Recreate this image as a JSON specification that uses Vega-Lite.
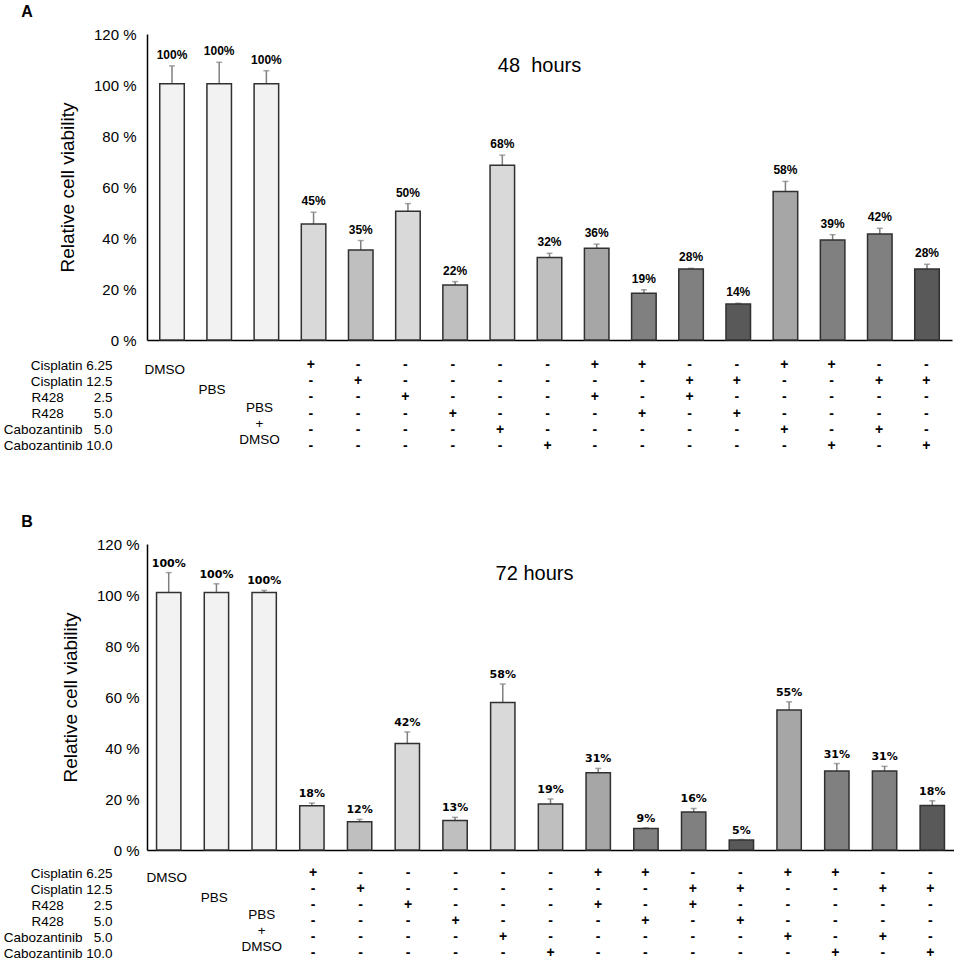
{
  "$schema": "https://vega.github.io/schema/vega-lite/v6.json",
  "padding": {"left": 3, "top": 4, "right": 0, "bottom": 0},
  "background": "white",
  "config": {
    "view": {"stroke": null},
    "font": "Liberation Sans",
    "axis": {"labelColor": "#000", "titleColor": "#000"}
  },
  "datasets": {
    "a48": [
      {"b": 1, "v": 100.5, "hi": 107.5, "g": "ctrl", "lab": "100%"},
      {"b": 2, "v": 100.5, "hi": 108.9, "g": "ctrl", "lab": "100%"},
      {"b": 3, "v": 100.5, "hi": 105.6, "g": "ctrl", "lab": "100%"},
      {"b": 4, "v": 45.5, "hi": 50.1, "g": "s1", "lab": "45%"},
      {"b": 5, "v": 35.3, "hi": 39, "g": "s2", "lab": "35%"},
      {"b": 6, "v": 50.5, "hi": 53.5, "g": "s1", "lab": "50%"},
      {"b": 7, "v": 21.6, "hi": 22.9, "g": "s2", "lab": "22%"},
      {"b": 8, "v": 68.5, "hi": 72.5, "g": "s1", "lab": "68%"},
      {"b": 9, "v": 32.4, "hi": 34, "g": "s2", "lab": "32%"},
      {"b": 10, "v": 36, "hi": 37.6, "g": "c1", "lab": "36%"},
      {"b": 11, "v": 18.3, "hi": 19.7, "g": "c2", "lab": "19%"},
      {"b": 12, "v": 27.8, "hi": 28.1, "g": "c2", "lab": "28%"},
      {"b": 13, "v": 14.1, "hi": 14.4, "g": "c3", "lab": "14%"},
      {"b": 14, "v": 58.2, "hi": 62.2, "g": "c1", "lab": "58%"},
      {"b": 15, "v": 39.2, "hi": 41.3, "g": "c2", "lab": "39%"},
      {"b": 16, "v": 41.6, "hi": 43.8, "g": "c2", "lab": "42%"},
      {"b": 17, "v": 27.8, "hi": 29.7, "g": "c3", "lab": "28%"}
    ],
    "b72": [
      {"b": 1, "v": 101, "hi": 108.8, "g": "ctrl", "lab": "100%"},
      {"b": 2, "v": 101, "hi": 104.4, "g": "ctrl", "lab": "100%"},
      {"b": 3, "v": 101, "hi": 101.8, "g": "ctrl", "lab": "100%"},
      {"b": 4, "v": 17.4, "hi": 18.4, "g": "s1", "lab": "18%"},
      {"b": 5, "v": 11.1, "hi": 12, "g": "s2", "lab": "12%"},
      {"b": 6, "v": 41.8, "hi": 46.3, "g": "s1", "lab": "42%"},
      {"b": 7, "v": 11.6, "hi": 12.8, "g": "s2", "lab": "13%"},
      {"b": 8, "v": 57.8, "hi": 65.1, "g": "s1", "lab": "58%"},
      {"b": 9, "v": 18, "hi": 20, "g": "s2", "lab": "19%"},
      {"b": 10, "v": 30.3, "hi": 32, "g": "c1", "lab": "31%"},
      {"b": 11, "v": 8.4, "hi": 8.7, "g": "c2", "lab": "9%"},
      {"b": 12, "v": 14.9, "hi": 16.3, "g": "c2", "lab": "16%"},
      {"b": 13, "v": 3.9, "hi": 4.1, "g": "c3", "lab": "5%"},
      {"b": 14, "v": 54.9, "hi": 58.1, "g": "c1", "lab": "55%"},
      {"b": 15, "v": 31, "hi": 33.9, "g": "c2", "lab": "31%"},
      {"b": 16, "v": 31, "hi": 32.8, "g": "c2", "lab": "31%"},
      {"b": 17, "v": 17.5, "hi": 19.3, "g": "c3", "lab": "18%"}
    ],
    "grid": [
      {"b": 4, "r": 1, "s": "+"}, {"b": 4, "r": 2, "s": "-"}, {"b": 4, "r": 3, "s": "-"}, {"b": 4, "r": 4, "s": "-"}, {"b": 4, "r": 5, "s": "-"}, {"b": 4, "r": 6, "s": "-"},
      {"b": 5, "r": 1, "s": "-"}, {"b": 5, "r": 2, "s": "+"}, {"b": 5, "r": 3, "s": "-"}, {"b": 5, "r": 4, "s": "-"}, {"b": 5, "r": 5, "s": "-"}, {"b": 5, "r": 6, "s": "-"},
      {"b": 6, "r": 1, "s": "-"}, {"b": 6, "r": 2, "s": "-"}, {"b": 6, "r": 3, "s": "+"}, {"b": 6, "r": 4, "s": "-"}, {"b": 6, "r": 5, "s": "-"}, {"b": 6, "r": 6, "s": "-"},
      {"b": 7, "r": 1, "s": "-"}, {"b": 7, "r": 2, "s": "-"}, {"b": 7, "r": 3, "s": "-"}, {"b": 7, "r": 4, "s": "+"}, {"b": 7, "r": 5, "s": "-"}, {"b": 7, "r": 6, "s": "-"},
      {"b": 8, "r": 1, "s": "-"}, {"b": 8, "r": 2, "s": "-"}, {"b": 8, "r": 3, "s": "-"}, {"b": 8, "r": 4, "s": "-"}, {"b": 8, "r": 5, "s": "+"}, {"b": 8, "r": 6, "s": "-"},
      {"b": 9, "r": 1, "s": "-"}, {"b": 9, "r": 2, "s": "-"}, {"b": 9, "r": 3, "s": "-"}, {"b": 9, "r": 4, "s": "-"}, {"b": 9, "r": 5, "s": "-"}, {"b": 9, "r": 6, "s": "+"},
      {"b": 10, "r": 1, "s": "+"}, {"b": 10, "r": 2, "s": "-"}, {"b": 10, "r": 3, "s": "+"}, {"b": 10, "r": 4, "s": "-"}, {"b": 10, "r": 5, "s": "-"}, {"b": 10, "r": 6, "s": "-"},
      {"b": 11, "r": 1, "s": "+"}, {"b": 11, "r": 2, "s": "-"}, {"b": 11, "r": 3, "s": "-"}, {"b": 11, "r": 4, "s": "+"}, {"b": 11, "r": 5, "s": "-"}, {"b": 11, "r": 6, "s": "-"},
      {"b": 12, "r": 1, "s": "-"}, {"b": 12, "r": 2, "s": "+"}, {"b": 12, "r": 3, "s": "+"}, {"b": 12, "r": 4, "s": "-"}, {"b": 12, "r": 5, "s": "-"}, {"b": 12, "r": 6, "s": "-"},
      {"b": 13, "r": 1, "s": "-"}, {"b": 13, "r": 2, "s": "+"}, {"b": 13, "r": 3, "s": "-"}, {"b": 13, "r": 4, "s": "+"}, {"b": 13, "r": 5, "s": "-"}, {"b": 13, "r": 6, "s": "-"},
      {"b": 14, "r": 1, "s": "+"}, {"b": 14, "r": 2, "s": "-"}, {"b": 14, "r": 3, "s": "-"}, {"b": 14, "r": 4, "s": "-"}, {"b": 14, "r": 5, "s": "+"}, {"b": 14, "r": 6, "s": "-"},
      {"b": 15, "r": 1, "s": "+"}, {"b": 15, "r": 2, "s": "-"}, {"b": 15, "r": 3, "s": "-"}, {"b": 15, "r": 4, "s": "-"}, {"b": 15, "r": 5, "s": "-"}, {"b": 15, "r": 6, "s": "+"},
      {"b": 16, "r": 1, "s": "-"}, {"b": 16, "r": 2, "s": "+"}, {"b": 16, "r": 3, "s": "-"}, {"b": 16, "r": 4, "s": "-"}, {"b": 16, "r": 5, "s": "+"}, {"b": 16, "r": 6, "s": "-"},
      {"b": 17, "r": 1, "s": "-"}, {"b": 17, "r": 2, "s": "+"}, {"b": 17, "r": 3, "s": "-"}, {"b": 17, "r": 4, "s": "-"}, {"b": 17, "r": 5, "s": "-"}, {"b": 17, "r": 6, "s": "+"}
    ],
    "ctrl": [
      {"b": 1, "r": 1.3, "t": "DMSO"},
      {"b": 2, "r": 2.55, "t": "PBS"},
      {"b": 3, "r": 3.65, "t": "PBS"},
      {"b": 3, "r": 4.65, "t": "+"},
      {"b": 3, "r": 5.65, "t": "DMSO"}
    ]
  },
  "spacing": 60,
  "vconcat": [
    {
      "title": {"text": "A", "anchor": "start", "frame": "bounds", "fontSize": 16, "fontWeight": "bold", "color": "#000", "dx": 18, "offset": 7},
      "spacing": 9,
      "vconcat": [
        {
          "width": 805,
          "height": 306,
          "title": {"text": "48\u00a0 hours", "anchor": "middle", "frame": "group", "fontSize": 20, "fontWeight": "normal", "color": "#000", "baseline": "alphabetic", "offset": -37, "dx": -10, "dy": 28},
          "data": {"name": "a48"},
          "encoding": {
            "x": {"field": "b", "type": "ordinal",
              "scale": {"domain": [1, 2, 3, 4, 5, 6, 7, 8, 9, 10, 11, 12, 13, 14, 15, 16, 17], "paddingInner": 0.48, "paddingOuter": 0.27},
              "axis": {"title": null, "labels": false, "ticks": false, "domainColor": "#000", "domainWidth": 1.5}}
          },
          "layer": [
            {
              "mark": {"type": "rule", "color": "#7f7f7f", "strokeWidth": 1.5},
              "encoding": {
                "y": {"field": "v", "type": "quantitative",
                  "scale": {"domain": [0, 120], "nice": false},
                  "axis": {"title": "Relative cell viability", "titleFontSize": 19, "titleFontWeight": "normal", "titlePadding": 16,
                    "values": [0, 20, 40, 60, 80, 100, 120], "labelExpr": "datum.value + ' %'", "labelFontSize": 15, "labelPadding": 11,
                    "ticks": false, "grid": false, "domainColor": "#000", "domainWidth": 1.5}},
                "y2": {"field": "hi"}
              }
            },
            {
              "mark": {"type": "tick", "color": "#7f7f7f", "thickness": 1.5, "size": 6},
              "encoding": {"y": {"field": "hi", "type": "quantitative"}}
            },
            {
              "mark": {"type": "bar", "stroke": "#303030", "strokeWidth": 1.5},
              "encoding": {
                "y": {"field": "v", "type": "quantitative"},
                "color": {"field": "g", "type": "nominal", "legend": null,
                  "scale": {"domain": ["ctrl", "s1", "s2", "c1", "c2", "c3"], "range": ["#f2f2f2", "#d9d9d9", "#bfbfbf", "#a6a6a6", "#808080", "#595959"]}}
              }
            },
            {
              "mark": {"type": "text", "baseline": "bottom", "dy": -4, "fontSize": 12, "fontWeight": "bold", "color": "#000"},
              "encoding": {"y": {"field": "hi", "type": "quantitative"}, "text": {"field": "lab"}}
            }
          ]
        },
        {
          "width": 805,
          "height": 97,
          "encoding": {
            "x": {"field": "b", "type": "ordinal",
              "scale": {"domain": [1, 2, 3, 4, 5, 6, 7, 8, 9, 10, 11, 12, 13, 14, 15, 16, 17], "paddingInner": 0.48, "paddingOuter": 0.27},
              "axis": null},
            "y": {"field": "r", "type": "quantitative",
              "scale": {"domain": [0.5, 6.5], "reverse": true, "nice": false, "zero": false},
              "axis": {"title": null, "values": [1, 2, 3, 4, 5, 6], "domain": false, "ticks": false, "grid": false,
                "labelFontSize": 13.5, "labelPadding": 35,
                "labelExpr": "['Cisplatin\u00a06.25', 'Cisplatin\u00a012.5', 'R428\u00a0\u00a0\u00a0\u00a0\u00a0\u00a0\u00a0\u00a02.5', 'R428\u00a0\u00a0\u00a0\u00a0\u00a0\u00a0\u00a0\u00a05.0', 'Cabozantinib\u00a0\u00a0\u00a05.0', 'Cabozantinib\u00a010.0'][datum.value - 1]"}}
          },
          "layer": [
            {
              "data": {"name": "grid"},
              "mark": {"type": "text", "fontSize": 14, "fontWeight": "bold", "color": "#000", "dx": -2},
              "encoding": {"text": {"field": "s"}}
            },
            {
              "data": {"name": "ctrl"},
              "mark": {"type": "text", "fontSize": 13.5, "color": "#000", "dx": -6},
              "encoding": {"text": {"field": "t"}}
            }
          ]
        }
      ]
    },
    {
      "title": {"text": "B", "anchor": "start", "frame": "bounds", "fontSize": 16, "fontWeight": "bold", "color": "#000", "dx": 18, "offset": 7},
      "spacing": 7,
      "vconcat": [
        {
          "width": 807,
          "height": 306,
          "title": {"text": "72 hours", "anchor": "middle", "frame": "group", "fontSize": 20, "fontWeight": "normal", "color": "#000", "baseline": "alphabetic", "offset": -35, "dx": -16, "dy": 28},
          "data": {"name": "b72"},
          "encoding": {
            "x": {"field": "b", "type": "ordinal",
              "scale": {"domain": [1, 2, 3, 4, 5, 6, 7, 8, 9, 10, 11, 12, 13, 14, 15, 16, 17], "paddingInner": 0.49, "paddingOuter": 0.2},
              "axis": {"title": null, "labels": false, "ticks": false, "domainColor": "#000", "domainWidth": 1.5}}
          },
          "layer": [
            {
              "mark": {"type": "rule", "color": "#7f7f7f", "strokeWidth": 1.5},
              "encoding": {
                "y": {"field": "v", "type": "quantitative",
                  "scale": {"domain": [0, 120], "nice": false},
                  "axis": {"title": "Relative cell viability", "titleFontSize": 19, "titleFontWeight": "normal", "titlePadding": 16,
                    "values": [0, 20, 40, 60, 80, 100, 120], "labelExpr": "datum.value + ' %'", "labelFontSize": 15, "labelPadding": 8,
                    "ticks": false, "grid": false, "domainColor": "#000", "domainWidth": 1.5}},
                "y2": {"field": "hi"}
              }
            },
            {
              "mark": {"type": "tick", "color": "#7f7f7f", "thickness": 1.5, "size": 6},
              "encoding": {"y": {"field": "hi", "type": "quantitative"}}
            },
            {
              "mark": {"type": "bar", "stroke": "#303030", "strokeWidth": 1.5},
              "encoding": {
                "y": {"field": "v", "type": "quantitative"},
                "color": {"field": "g", "type": "nominal", "legend": null,
                  "scale": {"domain": ["ctrl", "s1", "s2", "c1", "c2", "c3"], "range": ["#f2f2f2", "#d9d9d9", "#bfbfbf", "#a6a6a6", "#808080", "#595959"]}}
              }
            },
            {
              "mark": {"type": "text", "baseline": "bottom", "dy": -4, "fontSize": 11, "fontWeight": "bold", "font": "DejaVu Sans", "color": "#000"},
              "encoding": {"y": {"field": "hi", "type": "quantitative"}, "text": {"field": "lab"}}
            }
          ]
        },
        {
          "width": 807,
          "height": 96,
          "encoding": {
            "x": {"field": "b", "type": "ordinal",
              "scale": {"domain": [1, 2, 3, 4, 5, 6, 7, 8, 9, 10, 11, 12, 13, 14, 15, 16, 17], "paddingInner": 0.49, "paddingOuter": 0.2},
              "axis": null},
            "y": {"field": "r", "type": "quantitative",
              "scale": {"domain": [0.5, 6.5], "reverse": true, "nice": false, "zero": false},
              "axis": {"title": null, "values": [1, 2, 3, 4, 5, 6], "domain": false, "ticks": false, "grid": false,
                "labelFontSize": 13.5, "labelPadding": 35,
                "labelExpr": "['Cisplatin\u00a06.25', 'Cisplatin\u00a012.5', 'R428\u00a0\u00a0\u00a0\u00a0\u00a0\u00a0\u00a0\u00a02.5', 'R428\u00a0\u00a0\u00a0\u00a0\u00a0\u00a0\u00a0\u00a05.0', 'Cabozantinib\u00a0\u00a0\u00a05.0', 'Cabozantinib\u00a010.0'][datum.value - 1]"}}
          },
          "layer": [
            {
              "data": {"name": "grid"},
              "mark": {"type": "text", "fontSize": 14, "fontWeight": "bold", "color": "#000"},
              "encoding": {"text": {"field": "s"}}
            },
            {
              "data": {"name": "ctrl"},
              "mark": {"type": "text", "fontSize": 13.5, "color": "#000", "dx": -4},
              "encoding": {"text": {"field": "t"}}
            }
          ]
        }
      ]
    }
  ]
}
